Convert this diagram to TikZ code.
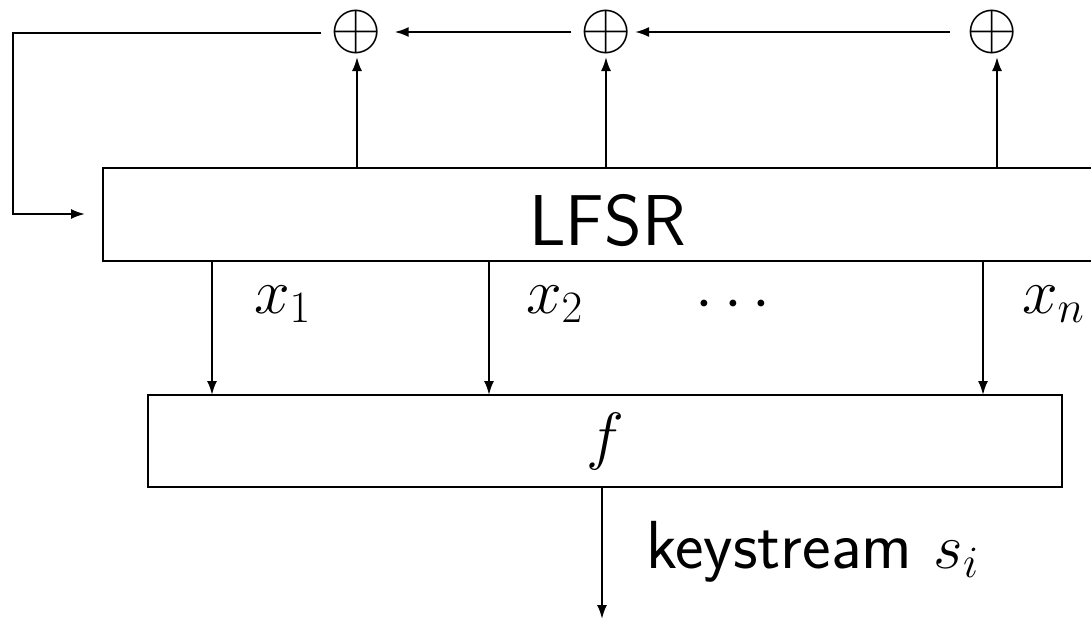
\RequirePackage{fix-cm}
\documentclass[tikz,border=0pt]{standalone}
\usetikzlibrary{arrows.meta}
\begin{document}
\begin{tikzpicture}[x=0.5pt,y=-0.5pt,
  conn/.style={line width=1pt},
  arr/.style={conn,-{Latex[length=7pt,width=5pt]}},
  box/.style={draw,line width=1.4pt,inner sep=0pt,outer sep=0pt},
  xor/.style={inner sep=0pt,outer sep=0pt,font=\fontsize{33pt}{40pt}\selectfont},
  mlbl/.style={inner sep=0pt,outer sep=0pt,font=\fontsize{32pt}{38pt}\selectfont},
  tlbl/.style={inner sep=0pt,outer sep=0pt}]
\useasboundingbox (0,0) rectangle (1091,621);
% boxes
\node[box,minimum width=507pt,minimum height=46.5pt] (lfsr) at (610,214.5) {};
\node[tlbl,anchor=base,font=\fontsize{36pt}{43pt}\selectfont\sffamily] (lfsrlbl) at (607.5,245) {LFSR};
\node[box,minimum width=457pt,minimum height=46pt,font=\fontsize{32pt}{38pt}\selectfont] (fbox) at (605,441) {$f$};
% xor nodes
\node[xor] (x1) at (356,32) {$\oplus$};
\node[xor] (x2) at (606,32) {$\oplus$};
\node[xor] (x3) at (992,32) {$\oplus$};
% helper coordinates
\coordinate (fbL) at (13,33);
\coordinate (fbB) at (13,214);
\coordinate (c1) at (212,0);
\coordinate (c2) at (489,0);
\coordinate (c3) at (983,0);
\coordinate (out) at (602,619);
% feedback
\draw[arr] ([xshift=-4.6pt]x1.west |- fbL) -- (fbL) -- (fbB) -- ([xshift=-9pt]lfsr.west |- fbB);
\draw[arr,shorten <=4.5pt,shorten >=6.5pt] (x2.west) -- (x1.east);
\draw[arr,shorten <=8.2pt,shorten >=1.7pt] (x3.west) -- (x2.east);
% taps up
\draw[arr,shorten >=1.5pt] ([xshift=0.5pt]x1.south |- lfsr.north) -- ([xshift=0.5pt]x1.south);
\draw[arr,shorten >=1.5pt] (x2.south |- lfsr.north) -- (x2.south);
\draw[arr,shorten >=1.5pt] ([xshift=2.5pt]x3.south |- lfsr.north) -- ([xshift=2.5pt]x3.south);
% taps down
\draw[arr] (c1 |- lfsr.south) -- (c1 |- fbox.north);
\draw[arr] (c2 |- lfsr.south) -- (c2 |- fbox.north);
\draw[arr] (c3 |- lfsr.south) -- (c3 |- fbox.north);
% output
\draw[arr] (out |- fbox.south) -- (out);
% labels
\node[mlbl,anchor=base west] (l1) at (254,313) {$x_1$};
\node[mlbl,anchor=base west] (l2) at (526,313) {$x_2$};
\node[mlbl,anchor=base] (ld) at (733,319.5) {$\cdots$};
\node[mlbl,anchor=base west] (ln) at (1022,313) {$x_n$};
\node[tlbl,anchor=base west,font=\fontsize{34pt}{41pt}\selectfont\sffamily] (ks) at (646,568) {keystream {\fontsize{32pt}{38pt}\selectfont$s_i$}};
\end{tikzpicture}
\end{document}
